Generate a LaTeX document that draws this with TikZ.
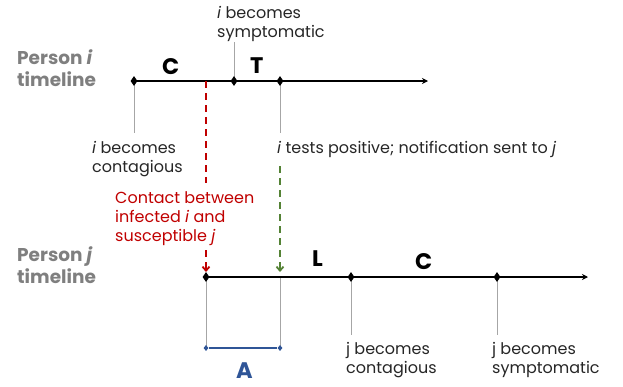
\documentclass[tikz,border=0pt]{standalone}
\usepackage{fontspec}
\setmainfont{Poppins}
\usetikzlibrary{shapes.geometric,arrows.meta}
\definecolor{txt}{HTML}{262626}
\definecolor{pgray}{HTML}{7F7F7F}
\definecolor{tick}{HTML}{A6A6A6}
\definecolor{cred}{HTML}{C00000}
\definecolor{cgreen}{HTML}{548235}
\definecolor{cblue}{HTML}{2F5597}
\tikzset{
  timeline/.style={line width=2pt,black,-{Stealth[length=6pt,width=6pt]}},
  dia/.style={diamond,fill=black,inner sep=0pt,minimum width=7pt,minimum height=10pt},
  bdia/.style={diamond,fill=cblue,inner sep=0pt,minimum width=5pt,minimum height=6pt},
  tickline/.style={line width=0.8pt,tick},
  lbl/.style={anchor=base west,align=left,inner sep=0pt,text=txt,font=\fontsize{16}{19}\selectfont},
  rlbl/.style={lbl,text=cred},
  person/.style={anchor=base west,align=left,inner sep=0pt,text=pgray,font=\fontsize{18.5}{22}\selectfont\bfseries},
  seg/.style={anchor=base west,inner sep=0pt,font=\fontsize{22.5}{24}\selectfont\bfseries},
  reddash/.style={line width=1.8pt,cred,dash pattern=on 7pt off 5pt},
  greendash/.style={line width=1.8pt,cgreen,dash pattern=on 7pt off 5pt},
  darrow/.style={-{Straight Barb[length=4pt,width=7pt]}}
}
\begin{document}
\begin{tikzpicture}[x=1pt,y=-1pt]
\useasboundingbox (0,0) rectangle (623,386);
% points on timeline i
\coordinate (i1) at (134,81);
\coordinate (ic) at (206,81);
\coordinate (i2) at (234,81);
\coordinate (i3) at (280,81);
\coordinate (iend) at (428,81);
% points on timeline j
\coordinate (j1) at (206,277);
\coordinate (j2) at (280,277);
\coordinate (j3) at (351,277);
\coordinate (j4) at (497,277);
\coordinate (jend) at (588,277);
% tick ends
\coordinate (ti1) at (134,133);
\coordinate (ti2) at (234,42);
\coordinate (ti3) at (280,133);
\coordinate (tj1) at (206,348);
\coordinate (tj2) at (280,348);
\coordinate (tj3) at (351,335);
\coordinate (tj4) at (497,335);
% ticks
\draw[tickline] (i1) -- (ti1);
\draw[tickline] (i2) -- (ti2);
\draw[tickline] (i3) -- (ti3);
\draw[tickline] (j1) -- (tj1);
\draw[tickline] (j2) -- (tj2);
\draw[tickline] (j3) -- (tj3);
\draw[tickline] (j4) -- (tj4);
% timelines
\draw[timeline] (i1) -- (iend);
\draw[timeline] (j1) -- (jend);
% markers
\node[dia] (di1) at (i1) {};
\node[dia] (di2) at (i2) {};
\node[dia] (di3) at (i3) {};
\node[dia] (dj1) at (j1) {};
\node[dia] (dj3) at (j3) {};
\node[dia] (dj4) at (j4) {};
% dashed arrows
\coordinate (rc1) at (206,183);
\coordinate (rc2) at (206,250);
\coordinate (rtip) at (206,272);
\coordinate (gc1) at (280,166);
\coordinate (gtip) at (280,272);
\draw[reddash] (ic) -- (rc1);
\draw[reddash,darrow] (rc2) -- (rtip);
\draw[greendash,darrow] (gc1) -- (gtip);
% A bracket
\node[bdia] (a1) at (tj1) {};
\node[bdia] (a2) at (tj2) {};
\draw[line width=1.6pt,cblue] (a1) -- (a2);
% labels (base = baseline of the last line)
\node[person] (pi) at (17,86) {Person \textit{i}\\timeline};
\node[person] (pj) at (17,283) {Person \textit{j}\\timeline};
\node[seg] (sC1) at (162,74) {C};
\node[seg] (sT) at (250,73) {T};
\node[seg] (sL) at (312,266) {L};
\node[seg] (sC2) at (415,269) {C};
\node[seg,text=cblue] (sA) at (236,378) {A};
\node[lbl] (lsym) at (217,37) {\textit{i} becomes\\symptomatic};
\node[lbl] (lcon) at (92,172) {\textit{i} becomes\\contagious};
\node[lbl] (ltest) at (277,153) {\textit{i} tests positive; notification sent to \textit{j}};
\node[rlbl] (lcontact) at (115,241) {Contact between\\infected \textit{i} and\\susceptible \textit{j}};
\node[lbl] (ljcon) at (346,373) {j becomes\\contagious};
\node[lbl] (ljsym) at (492,373) {j becomes\\symptomatic};
\end{tikzpicture}
\end{document}
